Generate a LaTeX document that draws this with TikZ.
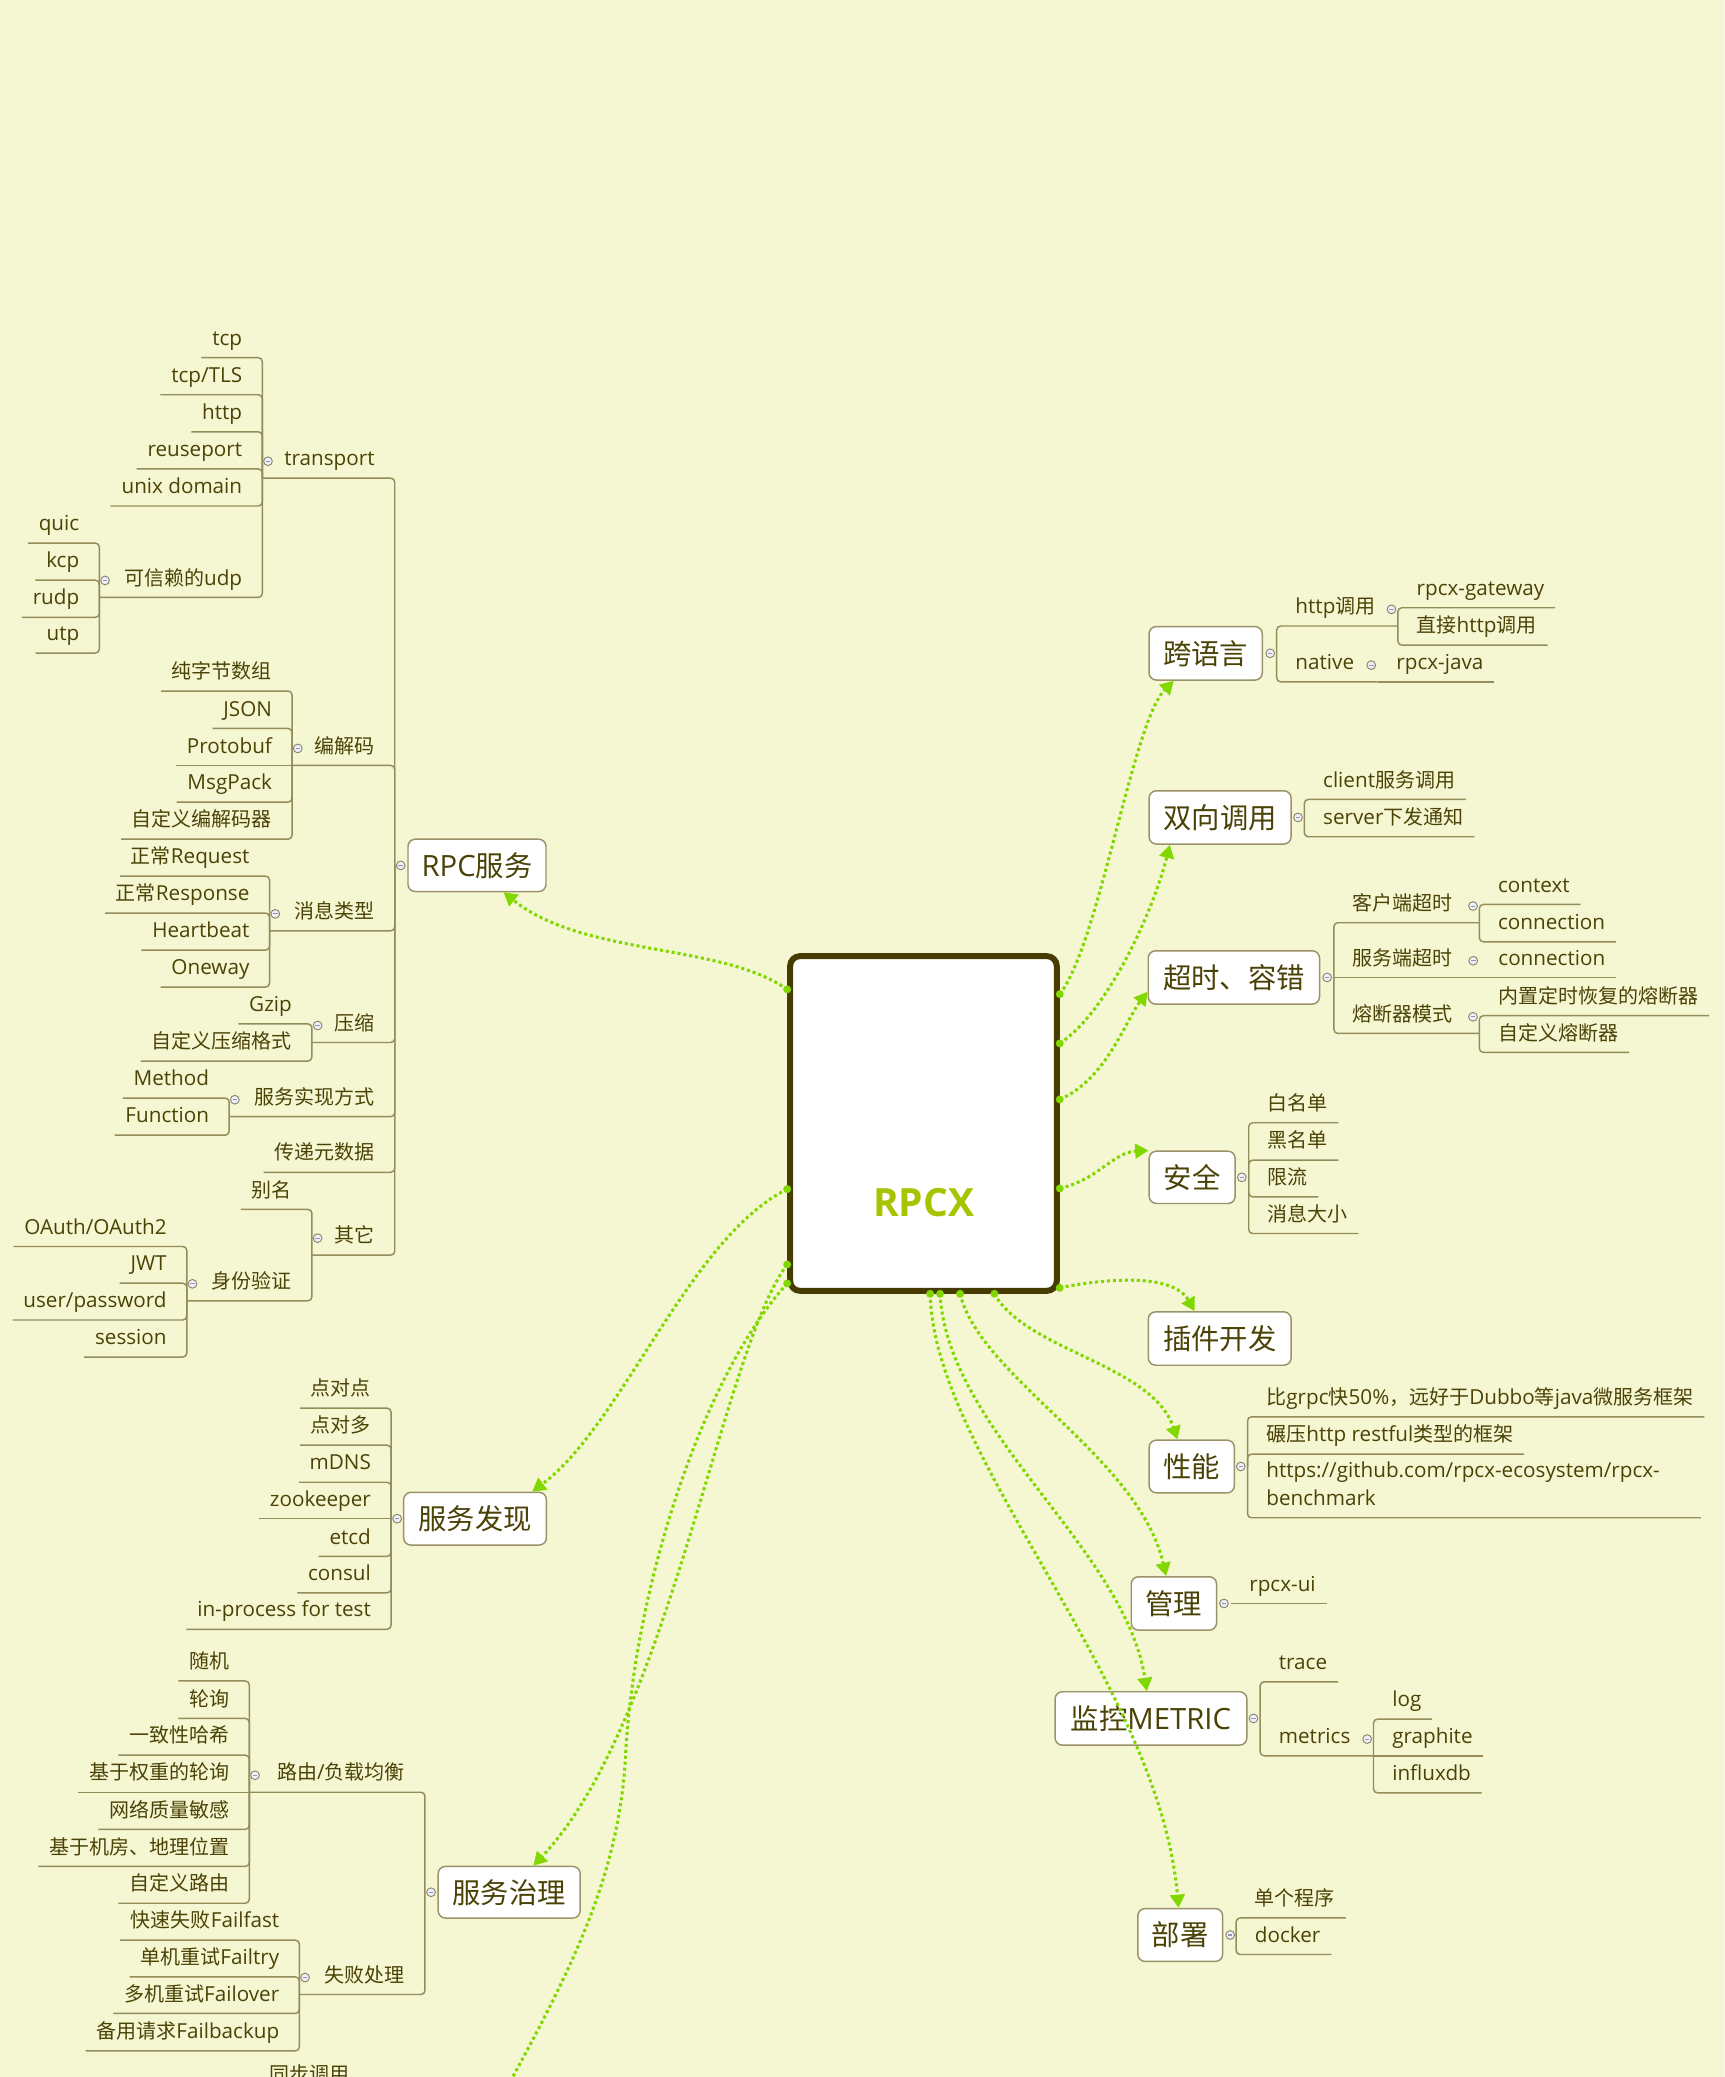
\documentclass[tikz,border=0pt]{standalone}
\usepackage{fontspec}
\setmainfont{Open Sans}
\newfontfamily\cjkfont{Noto Sans CJK SC}[Scale=0.968]
\usetikzlibrary{calc,arrows.meta}
\definecolor{bg}{HTML}{F5F7D2}
\definecolor{brline}{HTML}{958C5C}
\definecolor{boxline}{HTML}{9A9268}
\definecolor{txt}{HTML}{4B4206}
\definecolor{ctrline}{HTML}{463C02}
\definecolor{grn}{HTML}{80D800}
\definecolor{rpcxc}{HTML}{A8C300}
\definecolor{circline}{HTML}{8A8470}
\definecolor{circfill}{HTML}{EEF0F6}
\definecolor{minusc}{HTML}{8F97B5}
\newcommand\zh[1]{{\cjkfont #1}}
\newcommand\leaffont{\fontsize{15.6}{18}\selectfont}
\newcommand\topicfont{\fontsize{22.1}{25}\selectfont}
\tikzset{
 leaf/.style={inner sep=0pt, font=\leaffont, text=txt},
 branch/.style={draw=brline, line width=1.1pt, rounded corners=3pt},
 topic/.style={draw=boxline, fill=white, line width=1.1pt, rounded corners=5.5pt, inner sep=0pt, font=\topicfont, text=txt},
 collapse/.style={circle, draw=circline, fill=circfill, line width=0.7pt, minimum size=6.6pt, inner sep=0pt,
   path picture={\draw[minusc, line width=0.8pt] ([xshift=-1.7pt]path picture bounding box.center) -- ([xshift=1.7pt]path picture bounding box.center);}},
 conn/.style={draw=grn, line width=2.3pt, dash pattern=on 2.3pt off 2.2pt, -{Triangle[length=10pt,width=11pt]}},
 connplain/.style={draw=grn, line width=2.3pt, dash pattern=on 2.3pt off 2.2pt},
}
% left leaf: name, bracket x, underline y, parent y, text
\newcommand\LL[5]{%
 \node[leaf, anchor=base east] (#1) at (#2-15,#3-9.3) {#5};
 \ifdim #3pt=#4pt
  \draw[branch] (#2,#4) -- ($(#1.base west)+(-8,9.3)$);
 \else
  \draw[branch] (#2,#4) |- ($(#1.base west)+(-8,9.3)$);
 \fi}
% left inner: name, parent bracket x, underline y, parent y, own bracket x, text
\newcommand\LI[6]{%
 \node[leaf, anchor=base east] (#1) at (#2-15,#3-9.3) {#6};
 \ifdim #3pt=#4pt
  \draw[branch] (#2,#4) -- (#5,#3);
 \else
  \draw[branch] (#2,#4) |- (#5,#3);
 \fi
 \node[collapse] (#1-c) at (#5+4.3,#3-12.8) {};}
% right leaf
\newcommand\RL[5]{%
 \node[leaf, anchor=base west] (#1) at (#2+14,#3-9.3) {#5};
 \ifdim #3pt=#4pt
  \draw[branch] (#2,#4) -- ($(#1.base east)+(8,9.3)$);
 \else
  \draw[branch] (#2,#4) |- ($(#1.base east)+(8,9.3)$);
 \fi}
% right inner
\newcommand\RI[6]{%
 \node[leaf, anchor=base west] (#1) at (#2+14,#3-9.3) {#6};
 \ifdim #3pt=#4pt
  \draw[branch] (#2,#4) -- (#5,#3);
 \else
  \draw[branch] (#2,#4) |- (#5,#3);
 \fi
 \node[collapse] (#1-c) at (#5-4.8,#3-12.6) {};}

\begin{document}
\begin{tikzpicture}[x=1pt,y=-1pt]
\useasboundingbox (0,0) rectangle (1302,1568);
\clip (0,0) rectangle (1302,1568);
\fill[bg] (0,0) rectangle (1302,1568);

% ---------- topic boxes ----------
\node[topic, minimum width=104.2pt, minimum height=39.5pt] (rpcsvc) at (360.1,653.3) {RPC\zh{服务}};
\node[topic, minimum width=107.8pt, minimum height=39.8pt] (discovery) at (358.6,1146.5) {\zh{服务发现}};
\node[topic, minimum width=107.2pt, minimum height=39pt] (governance) at (384.4,1428.5) {\zh{服务治理}};
\node[topic, minimum width=85.5pt, minimum height=40.4pt] (crosslang) at (910.2,493.2) {\zh{跨语言}};
\node[topic, minimum width=107.2pt, minimum height=40.2pt] (bidir) at (921.1,617.1) {\zh{双向调用}};
\node[topic, minimum width=129.3pt, minimum height=40.2pt] (timeout) at (931.5,737.9) {\zh{超时、容错}};
\node[topic, minimum width=64.9pt, minimum height=39.5pt] (security) at (900,888.8) {\zh{安全}};
\node[topic, minimum width=107.8pt, minimum height=40.3pt] (plugin) at (920.8,1010.5) {\zh{插件开发}};
\node[topic, minimum width=64.4pt, minimum height=39.8pt] (perf) at (899.7,1107.1) {\zh{性能}};
\node[topic, minimum width=64.4pt, minimum height=40.3pt] (mgmt) at (886.2,1210.5) {\zh{管理}};
\node[topic, minimum width=144.8pt, minimum height=40.3pt] (monitor) at (868.9,1297.3) {\zh{监控}METRIC};
\node[topic, minimum width=64.1pt, minimum height=39.9pt] (deploy) at (891,1460.8) {\zh{部署}};

% ---------- RPC服务 ----------
\LI{transport}{298}{361}{653.3}{198}{transport}
 \LL{tcp}{198}{270}{361}{tcp}
 \LL{tcptls}{198}{298}{361}{tcp/TLS}
 \LL{http}{198}{326}{361}{http}
 \LL{reuseport}{198}{354}{361}{reuseport}
 \LL{unixd}{198}{382}{361}{unix domain}
 \LI{udp}{198}{451}{361}{75}{\zh{可信赖的}udp}
  \LL{quic}{75}{410}{451}{quic}
  \LL{kcp}{75}{438}{451}{kcp}
  \LL{rudp}{75}{466}{451}{rudp}
  \LL{utp}{75}{493}{451}{utp}
\LI{codec}{298}{577.8}{653.3}{220.5}{\zh{编解码}}
 \LL{rawbytes}{220.5}{521.7}{577.8}{\zh{纯字节数组}}
 \LL{json}{220.5}{549.9}{577.8}{JSON}
 \LL{protobuf}{220.5}{577.8}{577.8}{Protobuf}
 \LL{msgpack}{220.5}{605.5}{577.8}{MsgPack}
 \LL{customcodec}{220.5}{633.5}{577.8}{\zh{自定义编解码器}}
\LI{msgtype}{298}{702.7}{653.3}{203.5}{\zh{消息类型}}
 \LL{req}{203.5}{661.4}{702.7}{\zh{正常}Request}
 \LL{resp}{203.5}{689.3}{702.7}{\zh{正常}Response}
 \LL{hb}{203.5}{717.3}{702.7}{Heartbeat}
 \LL{oneway}{203.5}{745.2}{702.7}{Oneway}
\LI{compress}{298}{787}{653.3}{235.5}{\zh{压缩}}
 \LL{gzip}{235.5}{773}{787}{Gzip}
 \LL{customzip}{235.5}{801}{787}{\zh{自定义压缩格式}}
\LI{impl}{298}{843}{653.3}{173}{\zh{服务实现方式}}
 \LL{method}{173}{829}{843}{Method}
 \LL{func}{173}{857}{843}{Function}
\LL{meta}{298}{885}{653.3}{\zh{传递元数据}}
\LI{other}{298}{947.5}{653.3}{235.5}{\zh{其它}}
 \LL{alias}{235.5}{913}{947.5}{\zh{别名}}
 \LI{auth}{235.5}{982}{947.5}{141}{\zh{身份验证}}
  \LL{oauth}{141}{941}{982}{OAuth/OAuth2}
  \LL{jwt}{141}{968.7}{982}{JWT}
  \LL{userpw}{141}{996.5}{982}{user/password}
  \LL{session}{141}{1024.5}{982}{session}
\node[collapse] (rpcsvc-c) at (302.5,653.3) {};

% ---------- 服务发现 ----------
\LL{p2p}{295.2}{1063}{1146.5}{\zh{点对点}}
\LL{p2m}{295.2}{1091}{1146.5}{\zh{点对多}}
\LL{mdns}{295.2}{1119}{1146.5}{mDNS}
\LL{zk}{295.2}{1146.5}{1146.5}{zookeeper}
\LL{etcd}{295.2}{1175}{1146.5}{etcd}
\LL{consul}{295.2}{1202.5}{1146.5}{consul}
\LL{inproc}{295.2}{1230}{1146.5}{in-process for test}
\node[collapse] (discovery-c) at (299.8,1146.5) {};

% ---------- 服务治理 ----------
\LI{routing}{320.8}{1353}{1428.5}{188.2}{\zh{路由}/\zh{负载均衡}}
 \LL{random}{188.2}{1269}{1353}{\zh{随机}}
 \LL{rr}{188.2}{1297.3}{1353}{\zh{轮询}}
 \LL{hash}{188.2}{1325}{1353}{\zh{一致性哈希}}
 \LL{wrr}{188.2}{1353}{1353}{\zh{基于权重的轮询}}
 \LL{netq}{188.2}{1381}{1353}{\zh{网络质量敏感}}
 \LL{geo}{188.2}{1409}{1353}{\zh{基于机房、地理位置}}
 \LL{customroute}{188.2}{1436.8}{1353}{\zh{自定义路由}}
\LI{failure}{320.8}{1505.7}{1428.5}{226}{\zh{失败处理}}
 \LL{failfast}{226}{1464.7}{1505.7}{\zh{快速失败}Failfast}
 \LL{failtry}{226}{1492.4}{1505.7}{\zh{单机重试}Failtry}
 \LL{failover}{226}{1520}{1505.7}{\zh{多机重试}Failover}
 \LL{failbackup}{226}{1548.3}{1505.7}{\zh{备用请求}Failbackup}
\node[collapse] (governance-c) at (325.4,1428.5) {};
\node[leaf, anchor=base west] (syncCall) at (203,1571) {\zh{同步调用}};

% ---------- 跨语言 ----------
\RI{httpcall}{963.8}{472.6}{493.2}{1055.3}{http\zh{调用}}
 \RL{gateway}{1055.3}{458.8}{472.6}{rpcx-gateway}
 \RL{directhttp}{1055.3}{487}{472.6}{\zh{直接}http\zh{调用}}
\RI{native}{963.8}{514.7}{493.2}{1040}{native}
 \RL{rpcxjava}{1040}{514.7}{514.7}{rpcx-java}
\node[collapse] (crosslang-c) at (958.9,493.2) {};

% ---------- 双向调用 ----------
\RL{clientcall}{984.7}{603.5}{617.1}{client\zh{服务调用}}
\RL{servernotify}{984.7}{631.7}{617.1}{server\zh{下发通知}}
\node[collapse] (bidir-c) at (979.9,617.1) {};

% ---------- 超时、容错 ----------
\RI{clitimeout}{1007}{696.6}{737.9}{1116.8}{\zh{客户端超时}}
 \RL{context}{1116.8}{682.8}{696.6}{context}
 \RL{connA}{1116.8}{711}{696.6}{connection}
\RI{srvtimeout}{1007}{737.9}{737.9}{1117}{\zh{服务端超时}}
 \RL{connB}{1117}{737.9}{737.9}{connection}
\RI{breaker}{1007}{780.2}{737.9}{1116.8}{\zh{熔断器模式}}
 \RL{builtinbreaker}{1116.8}{766.8}{780.2}{\zh{内置定时恢复的熔断器}}
 \RL{custombreaker}{1116.8}{794.5}{780.2}{\zh{自定义熔断器}}
\node[collapse] (timeout-c) at (1001.9,737.9) {};

% ---------- 安全 ----------
\RL{whitelist}{942.7}{847.6}{888.8}{\zh{白名单}}
\RL{blacklist}{942.7}{875.8}{888.8}{\zh{黑名单}}
\RL{ratelimit}{942.7}{903.5}{888.8}{\zh{限流}}
\RL{msgsize}{942.7}{931.2}{888.8}{\zh{消息大小}}
\node[collapse] (security-c) at (937.5,888.8) {};

% ---------- 性能 ----------
\RL{faster}{941.8}{1069.6}{1107.1}{\zh{比}grpc\zh{快}50\%\zh{，远好于}Dubbo\zh{等}java\zh{微服务框架}}
\RL{crush}{941.8}{1097.8}{1107.1}{\zh{碾压}http restful\zh{类型的框架}}
\node[leaf, anchor=base west] (urlA) at (955.8,1115.1) {https://github.com/rpcx-ecosystem/rpcx-};
\node[leaf, anchor=base west] (urlB) at (955.8,1136.5) {benchmark};
\draw[branch] (941.8,1107.1) |- ($(urlB.base west)+(328.3,9.3)$);
\node[collapse] (perf-c) at (936.7,1107.1) {};

% ---------- 管理 ----------
\RL{rpcxui}{929}{1210.5}{1210.5}{rpcx-ui}
\node[collapse] (mgmt-c) at (924,1210.5) {};

% ---------- 监控METRIC ----------
\RL{trace}{951.3}{1269.7}{1297.3}{trace}
\RI{metrics}{951.3}{1325.5}{1297.3}{1036.9}{metrics}
 \RL{log}{1036.9}{1297.8}{1325.5}{log}
 \RL{graphite}{1036.9}{1325.5}{1325.5}{graphite}
 \RL{influxdb}{1036.9}{1353.5}{1325.5}{influxdb}
\node[collapse] (monitor-c) at (946.3,1297.3) {};

% ---------- 部署 ----------
\RL{single}{933.2}{1447.9}{1460.8}{\zh{单个程序}}
\RL{docker}{933.2}{1475.5}{1460.8}{docker}
\node[collapse] (deploy-c) at (928.7,1460.8) {};

% ---------- central ----------
\node[draw=ctrline, fill=white, line width=4.5pt, rounded corners=7.5pt, minimum width=201.3pt, minimum height=252.7pt, inner sep=0pt] (rpcx) at (697.15,848.15) {};
\node[font=\fontsize{29.4}{34}\selectfont\bfseries, text=rpcxc, inner sep=0pt] (rpcxlabel) at (697.2,907.6) {RPCX};

% start points
\coordinate (sRPC) at ($(rpcx.west)+(0,-101.25)$);
\coordinate (sDisc) at ($(rpcx.west)+(0,49.55)$);
\coordinate (sGov) at ($(rpcx.west)+(0,106.45)$);
\coordinate (sSync) at ($(rpcx.west)+(0,120.75)$);
\coordinate (sCross) at ($(rpcx.east)+(0,-97.65)$);
\coordinate (sBi) at ($(rpcx.east)+(0,-60.45)$);
\coordinate (sTime) at ($(rpcx.east)+(0,-18.15)$);
\coordinate (sSec) at ($(rpcx.east)+(0,49.05)$);
\coordinate (sPlug) at ($(rpcx.east)+(0,124.05)$);
\coordinate (sPerf) at ($(rpcx.south)+(53.55,0)$);
\coordinate (sMgmt) at ($(rpcx.south)+(27.65,0)$);
\coordinate (sMon) at ($(rpcx.south)+(12.55,0)$);
\coordinate (sDep) at ($(rpcx.south)+(5.05,0)$);
% end points
\coordinate (eRPC) at ($(rpcsvc.south)+(20.1,0)$);
\coordinate (eDisc) at ($(discovery.north)+(43.2,0)$);
\coordinate (eGov) at ($(governance.north)+(18.3,0)$);
\coordinate (eSync) at (375,1590);
\coordinate (eCross) at ($(crosslang.south)+(-24.1,0)$);
\coordinate (eBi) at ($(bidir.south)+(-37.9,0)$);
\coordinate (eTime) at ($(timeout.west)+(0,10.8)$);
\coordinate (eSec) at (security.north west);
\coordinate (ePlug) at ($(plugin.north)+(-19,0)$);
\coordinate (ePerf) at ($(perf.north)+(-10.8,0)$);
\coordinate (eMgmt) at ($(mgmt.north)+(-5.9,0)$);
\coordinate (eMon) at ($(monitor.north)+(-3.2,0)$);
\coordinate (eDep) at ($(deploy.north)+(-1.3,0)$);

\draw[conn] (sRPC) .. controls (545,712) and (440,722) .. (eRPC);
\draw[conn] (sDisc) .. controls (520,935) and (470,1075) .. (eDisc);
\draw[conn] (sGov) .. controls (545,1020) and (505,1300) .. (eGov);
\draw[connplain] (sSync) .. controls (530,1040) and (478,1200) .. (472,1330) .. controls (466,1420) and (430,1490) .. (eSync);
\draw[conn] (sCross) .. controls (830,712) and (855,545) .. (eCross);
\draw[conn] (sBi) .. controls (835,765) and (870,690) .. (eBi);
\draw[conn] (sTime) .. controls (835,815) and (850,770) .. (eTime);
\draw[conn] (sSec) .. controls (830,890) and (840,870) .. (eSec);
\draw[conn] (sPlug) .. controls (830,966) and (885,960) .. (ePlug);
\draw[conn] (sPerf) .. controls (775,1020) and (870,1030) .. (ePerf);
\draw[conn] (sMgmt) .. controls (740,1040) and (860,1100) .. (eMgmt);
\draw[conn] (sMon) .. controls (715,1080) and (850,1170) .. (eMon);
\draw[conn] (sDep) .. controls (705,1100) and (875,1270) .. (eDep);

\foreach \p in {sRPC,sDisc,sGov,sSync,sCross,sBi,sTime,sSec,sPlug,sPerf,sMgmt,sMon,sDep}
  \fill[grn] (\p) circle (3pt);
\end{tikzpicture}
\end{document}
